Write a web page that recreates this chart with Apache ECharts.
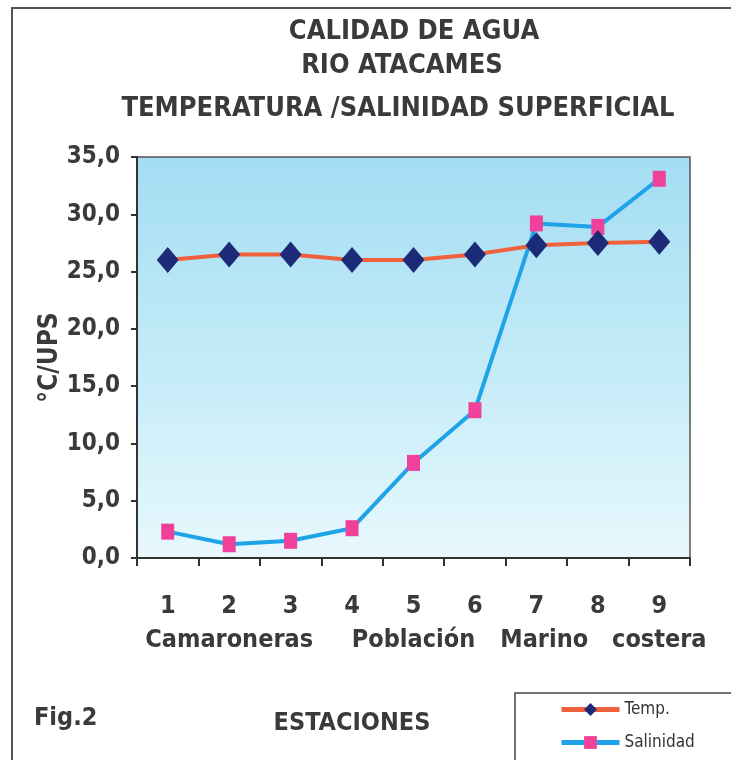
<!DOCTYPE html>
<html>
<head>
<meta charset="utf-8">
<script src="https://cdn.jsdelivr.net/npm/echarts@6/dist/echarts.min.js"></script>
<style>
html,body{margin:0;padding:0;background:#fff;}
#c{width:731px;height:760px;}
</style>
</head>
<body>
<div id="c"></div>
<script>
const stations = ['1','2','3','4','5','6','7','8','9'];
const stationGroups = ['', 'Camaroneras', '', '', 'Población', '', 'Marino', '', 'costera'];
const temp = [26.0, 26.5, 26.5, 26.0, 26.0, 26.5, 27.3, 27.5, 27.6];
const salinity = [2.3, 1.2, 1.5, 2.6, 8.3, 12.9, 29.2, 28.9, 33.1];
const titleLines = ['CALIDAD DE AGUA', 'RIO ATACAMES', 'TEMPERATURA /SALINIDAD SUPERFICIAL'];
const yMin = 0, yMax = 35, yStep = 5;

const FONT = "'Liberation Sans Narrow','Arial Narrow','DejaVu Sans Condensed',sans-serif";
const TXT = '#3a3a3a';
const chart = echarts.init(document.getElementById('c'));
chart.setOption({
  animation: false,
  backgroundColor: '#fff',
  grid: {
    left: 137, right: 41, top: 157, bottom: 202,
    show: true,
    borderColor: '#555', borderWidth: 1.5,
    backgroundColor: new echarts.graphic.LinearGradient(0,0,0,1,[
      {offset:0, color:'#a3ddf3'},
      {offset:0.55, color:'#c6ecf8'},
      {offset:1, color:'#e8f8fd'}
    ])
  },
  legend: {
    orient: 'vertical',
    left: 515, top: 693,
    height: 80,
    padding: [8, 80, 30, 44],
    borderColor: '#444', borderWidth: 1.5,
    itemWidth: 58, itemHeight: 16, itemGap: 16,
    lineStyle: {width: 5},
    textStyle: {fontFamily: FONT, fontSize: 17, color: '#333'},
    data: ['Temp.', 'Salinidad']
  },
  xAxis: [
    {
      type: 'category', data: stations, boundaryGap: true,
      axisLine: {lineStyle: {color: '#333', width: 2}},
      axisTick: {show: true, length: 8, lineStyle: {color: '#333', width: 2}},
      axisLabel: {margin: 36, fontFamily: FONT, fontSize: 25, fontWeight: 'bold', color: TXT, interval: 0},
      splitLine: {show: false}
    },
    {
      type: 'category', data: stationGroups, boundaryGap: true, position: 'bottom', offset: 0,
      axisLine: {show: false}, axisTick: {show: false},
      axisLabel: {margin: 70, fontFamily: FONT, fontSize: 25, fontWeight: 'bold', color: TXT, interval: 0,
        formatter: v => v === 'Marino' ? '  ' + v : v},
      splitLine: {show: false}
    }
  ],
  yAxis: {
    type: 'value', min: yMin, max: yMax, interval: yStep,
    name: '°C/UPS', nameLocation: 'middle', nameGap: 74, nameMoveOverlap: false,
    nameTextStyle: {fontFamily: FONT, fontSize: 26, fontWeight: 'bold', color: TXT},
    axisLine: {show: true, lineStyle: {color: '#333', width: 2}},
    axisTick: {show: true, length: 6, lineStyle: {color: '#333', width: 2}},
    axisLabel: {margin: 17, fontFamily: FONT, fontSize: 24, fontWeight: 'bold', color: TXT,
      formatter: v => v.toFixed(1).replace('.', ',')},
    splitLine: {show: false}
  },
  series: [
    {
      name: 'Temp.', type: 'line', data: temp, xAxisIndex: 0,
      symbol: 'diamond', symbolSize: [22, 26],
      lineStyle: {color: '#f0603a', width: 4},
      itemStyle: {color: '#1c2b78'},
      z: 3
    },
    {
      name: 'Salinidad', type: 'line', data: salinity, xAxisIndex: 0,
      symbol: 'rect', symbolSize: [13, 16],
      lineStyle: {color: '#1ea3e8', width: 4},
      itemStyle: {color: '#f0409a'},
      z: 2
    }
  ],
  graphic: [
    {type: 'polyline', shape: {points: [[12, 760], [12, 8], [731, 8]]}, style: {stroke: '#555', lineWidth: 2, fill: null}},
    {type: 'text', x: 414, y: 32, style: {text: titleLines[0], font: 'bold 27px ' + FONT, fill: TXT, textAlign: 'center', textVerticalAlign: 'middle'}},
    {type: 'text', x: 402, y: 66, style: {text: titleLines[1], font: 'bold 27px ' + FONT, fill: TXT, textAlign: 'center', textVerticalAlign: 'middle'}},
    {type: 'text', x: 398, y: 109, style: {text: titleLines[2], font: 'bold 27px ' + FONT, fill: TXT, textAlign: 'center', textVerticalAlign: 'middle'}},
    {type: 'text', x: 34, y: 718, style: {text: 'Fig.2', font: 'bold 25px ' + FONT, fill: TXT, textVerticalAlign: 'middle'}},
    {type: 'text', x: 352, y: 723, style: {text: 'ESTACIONES', font: 'bold 25px ' + FONT, fill: TXT, textAlign: 'center', textVerticalAlign: 'middle'}}
  ]
});
</script>
</body>
</html>
